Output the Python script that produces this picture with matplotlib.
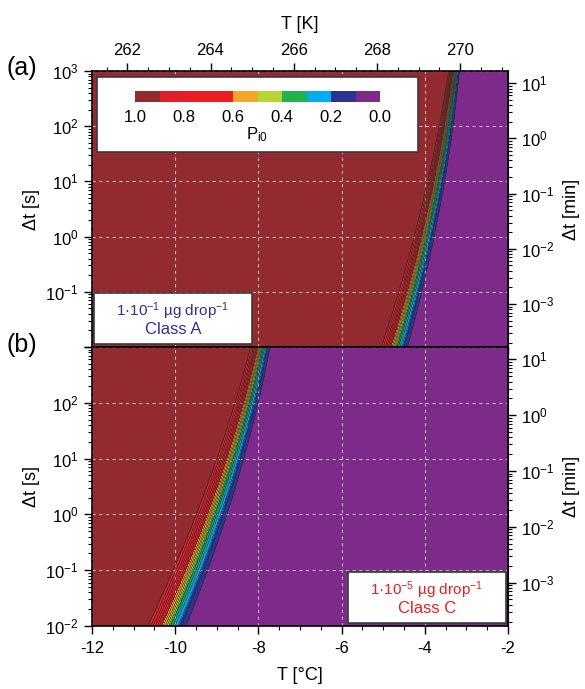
import numpy as np
import matplotlib
matplotlib.use("Agg")
import matplotlib.pyplot as plt
from matplotlib.ticker import LogLocator, MultipleLocator, NullFormatter, FuncFormatter
from matplotlib.patches import Rectangle

plt.rcParams['font.family'] = ['Liberation Sans', 'DejaVu Sans']
plt.rcParams['mathtext.fontset'] = 'custom'
plt.rcParams['mathtext.rm'] = 'Liberation Sans'
plt.rcParams['mathtext.it'] = 'Liberation Sans:italic'
plt.rcParams['mathtext.default'] = 'regular'
plt.rcParams['axes.unicode_minus'] = False

# -----------------------------
# Data
# -----------------------------
# time decades [s] and temperature [°C] where P_i0 = 0.5 in each panel
dt_dec = [1e-2, 1e-1, 1e0, 1e1, 1e2, 1e3]
t50_a = [-4.79, -4.32, -4.00, -3.78, -3.53, -3.27]
t50_b = [-10.25, -9.66, -9.12, -8.72, -8.32, -7.95]

p_levels = [0.0, 0.1, 0.2, 0.3, 0.4, 0.5, 0.6, 0.7, 0.8, 0.9, 1.0]
p_colors = ['#7D2A8A', '#2B3591', '#00AEEF', '#22B14C', '#B9D535',
            '#F6A52C', '#ED1C24', '#ED1C24', '#E11F2A', '#922A2F']
cbar_ticks = [1.0, 0.8, 0.6, 0.4, 0.2, 0.0]

label_a = ['1·10$^{-1}$ µg drop$^{-1}$', 'Class A']
label_b = ['1·10$^{-5}$ µg drop$^{-1}$', 'Class C']


def p_field(t50, T, L):
    # P_i0 = 1 - exp(-J t); J fixed by the P = 0.5 line read above
    c = np.polyfit(np.log10(dt_dec), t50, 2)
    Ls = np.linspace(-3.5, 4.5, 400)
    Ts = np.polyval(c, Ls)
    TT, LL = np.meshgrid(T, L)
    f = np.interp(TT, Ts, Ls)
    x = LL - f
    # band a bit wider on the cold side, as in the figure
    x = np.where(x > 0, x / 1.3, x / 1.05)
    x = np.clip(x, -8, 3)
    return 1 - np.exp(-np.log(2) * 10 ** x)


T = np.linspace(-12, -2, 1200)
L = np.linspace(-2, 3, 500)
t = 10 ** L

# -----------------------------
# Figure
# -----------------------------
W, H = 585, 689
fig = plt.figure(figsize=(W / 100, H / 100), dpi=100)
x0, x1 = 92, 508
ax_a = fig.add_axes([x0 / W, 1 - 347 / H, (x1 - x0) / W, (347 - 71) / H])
ax_b = fig.add_axes([x0 / W, 1 - 626 / H, (x1 - x0) / W, (626 - 347) / H])

line_levels = np.arange(0.1, 0.91, 0.05)
sec_fmt = FuncFormatter(lambda v, p: '$10^{%d}$' % int(round(np.log10(v))))

for ax, t50 in [(ax_a, t50_a), (ax_b, t50_b)]:
    P = p_field(t50, T, L)
    cf = ax.contourf(T, t, P, levels=p_levels, colors=p_colors)
    ax.contour(T, t, P, levels=line_levels, colors='#2a2a2a', linewidths=0.45)
    ax.set_yscale('log')
    ax.set_xlim(-12, -2)
    ax.set_ylim(1e-2, 1e3)
    ax.xaxis.set_major_locator(MultipleLocator(2))
    ax.xaxis.set_minor_locator(MultipleLocator(0.5))
    ax.yaxis.set_major_locator(LogLocator(base=10, numticks=10))
    ax.yaxis.set_minor_locator(LogLocator(base=10, subs=np.arange(2, 10), numticks=20))
    ax.yaxis.set_minor_formatter(NullFormatter())
    ax.grid(True, which='major', ls=(0, (3, 3)), color='#B5B5B5', lw=0.8)
    ax.tick_params(axis='y', which='major', direction='out', length=6, width=1, labelsize=12)
    ax.tick_params(axis='y', which='minor', direction='out', length=3, width=0.8)
    ax.set_ylabel('Δt [s]', fontsize=13, labelpad=4)
    for s in ax.spines.values():
        s.set_linewidth(1.2)

    sec = ax.secondary_yaxis('right', functions=(lambda s: s / 60, lambda m: m * 60))
    sec.yaxis.set_major_locator(LogLocator(base=10, numticks=10))
    sec.yaxis.set_minor_locator(LogLocator(base=10, subs=np.arange(2, 10), numticks=20))
    sec.yaxis.set_major_formatter(sec_fmt)
    sec.yaxis.set_minor_formatter(NullFormatter())
    sec.tick_params(which='major', direction='out', length=6, width=1, labelsize=12)
    sec.tick_params(which='minor', direction='out', length=3, width=0.8)
    sec.set_ylabel('Δt [min]', fontsize=13, labelpad=6)

ax_a.yaxis.set_major_formatter(FuncFormatter(
    lambda v, p: '' if v < 0.05 else '$10^{%d}$' % int(round(np.log10(v)))))
ax_b.yaxis.set_major_formatter(FuncFormatter(
    lambda v, p: '' if v > 500 else '$10^{%d}$' % int(round(np.log10(v)))))

# panel a: no bottom ticks, Kelvin axis on top
ax_a.tick_params(axis='x', which='both', bottom=False, labelbottom=False)
top = ax_a.secondary_xaxis('top', functions=(lambda c: c + 273.15, lambda k: k - 273.15))
top.xaxis.set_major_locator(MultipleLocator(2))
top.xaxis.set_minor_locator(MultipleLocator(0.5))
top.tick_params(which='major', direction='out', length=6, width=1, labelsize=12)
top.tick_params(which='minor', direction='out', length=3, width=0.8)
top.set_xlabel('T [K]', fontsize=13, labelpad=10)

# panel b: bottom axis in °C, ticks pointing into the panel on top
ax_b.tick_params(axis='x', which='major', direction='out', length=6, width=1, labelsize=12, pad=5)
ax_b.tick_params(axis='x', which='minor', direction='out', length=3, width=0.8)
ax_b.set_xlabel('T [°C]', fontsize=13, labelpad=8)
topb = ax_b.secondary_xaxis('top')
topb.xaxis.set_major_locator(MultipleLocator(2))
topb.xaxis.set_minor_locator(MultipleLocator(0.5))
topb.tick_params(which='major', direction='in', length=5, width=1, labeltop=False)
topb.tick_params(which='minor', direction='in', length=3, width=0.8)

# legend box with colour bar in panel a
ax_a.add_patch(Rectangle((0.012, 0.7065), 0.772, 0.2715, transform=ax_a.transAxes,
                         facecolor='white', edgecolor='#3a3a3a', lw=1.2, zorder=5))
cax = fig.add_axes([135 / W, 1 - 102 / H, 245 / W, 11 / H])
cb = fig.colorbar(cf, cax=cax, orientation='horizontal')
cb.outline.set_visible(False)
cax.set_xlim(1.0, 0.0)
cb.set_ticks(cbar_ticks)
cb.set_ticklabels(['%.1f' % v for v in cbar_ticks])
cax.tick_params(length=0, labelsize=12, pad=6)
fig.text(257 / W, 1 - 135 / H, '$P_{i0}$', ha='center', va='center', fontsize=12)

# sample boxes
for ax, lab, col, xb in [(ax_a, label_a, '#2E3192', 0.005), (ax_b, label_b, '#ED1C24', 0.615)]:
    ax.add_patch(Rectangle((xb, 0.011), 0.38, 0.183, transform=ax.transAxes,
                           facecolor='white', edgecolor='#3a3a3a', lw=1.2, zorder=5))
    ax.text(xb + 0.19, 0.13, lab[0], transform=ax.transAxes, ha='center', va='center',
            color=col, fontsize=11, zorder=6)
    ax.text(xb + 0.19, 0.063, lab[1], transform=ax.transAxes, ha='center', va='center',
            color=col, fontsize=12, zorder=6)

fig.text(22 / W, 1 - 68 / H, '(a)', ha='center', va='center', fontsize=18)
fig.text(22 / W, 1 - 345 / H, '(b)', ha='center', va='center', fontsize=18)

fig.savefig('out.png', dpi=100)
